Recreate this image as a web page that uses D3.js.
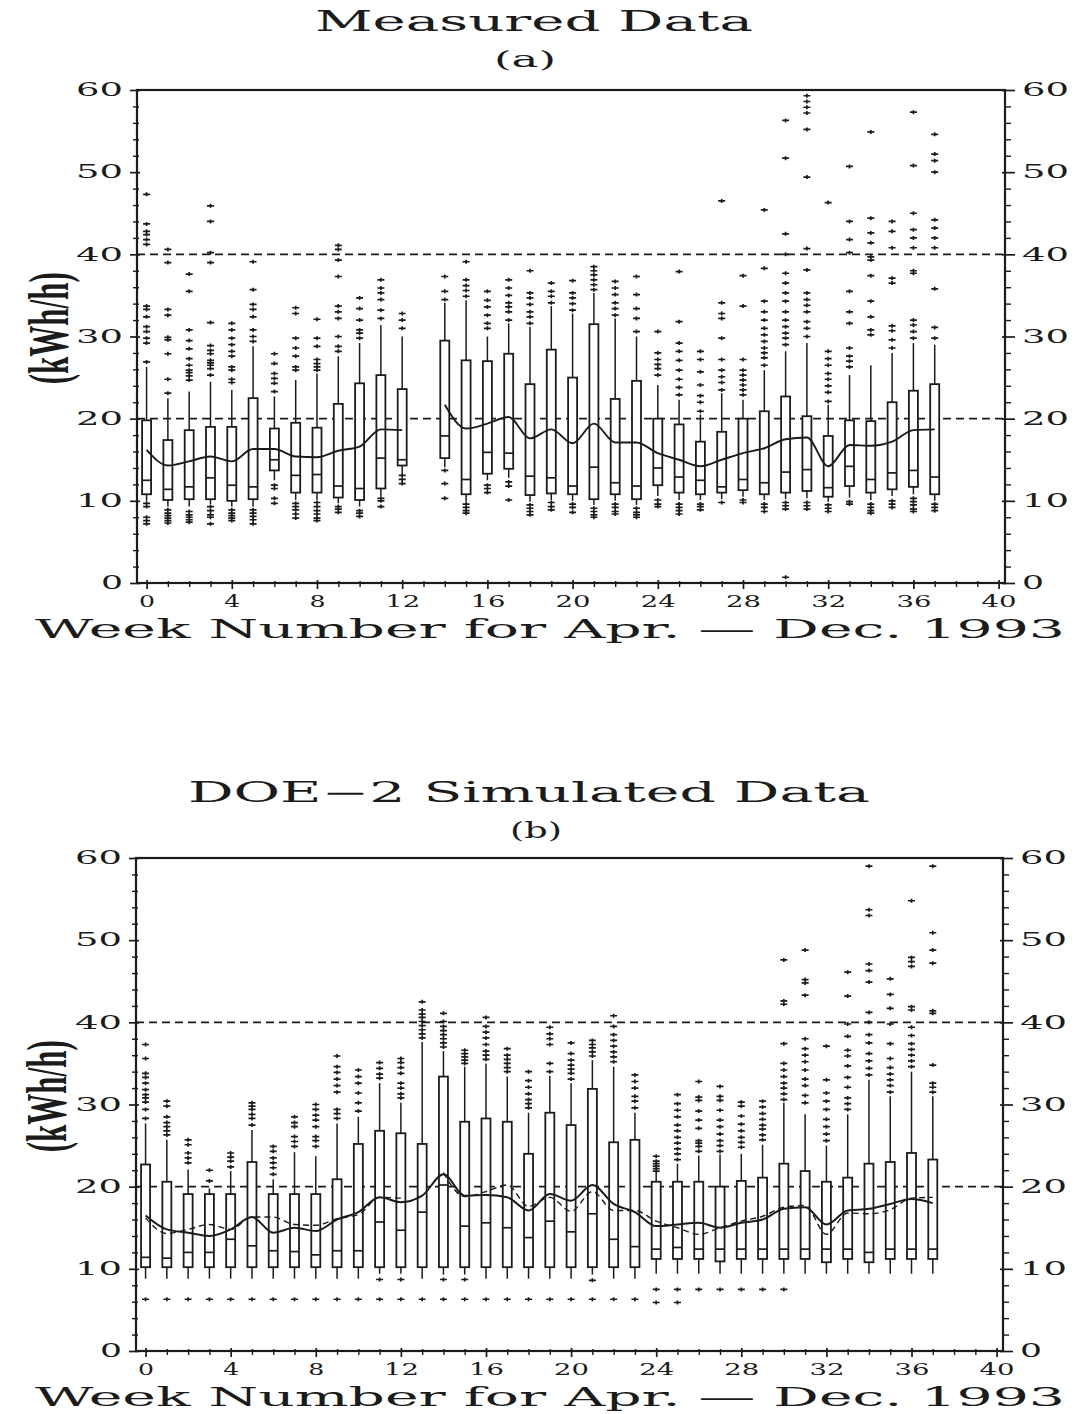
<!DOCTYPE html>
<html>
<head>
<meta charset="utf-8">
<script src="https://cdn.jsdelivr.net/npm/d3@7"></script>
<style>
  body { margin: 0; background: #fff; }
  svg { display: block; }
</style>
</head>
<body>
<svg id="chart" width="1078" height="1414"></svg>
<script>
// ---------- categories and tick labels ----------
const weeks = [0,1,2,3,4,5,6,7,8,9,10,11,12,13,14,15,16,17,18,19,20,21,22,23,24,25,26,27,28,29,30,31,32,33,34,35,36,37];
const xTickWeeks = [0,4,8,12,16,20,24,28,32,36,40];
const yTickValues = [0,10,20,30,40,50,60];
const refLevels = [20,40];
const xTitle = "Week Number for Apr. \u2014 Dec. 1993";
const yTitle = "(kWh/h)";

// ---------- measured hourly energy, weekly box statistics (week 13 has no data) ----------
const measQ1  = [10.8,10.1,10.2,10.2,10.0,10.2,13.7,11.0,11.0,10.4,10.1,11.5,14.3,null,15.2,10.8,13.3,13.9,10.7,10.9,10.8,10.2,10.8,10.2,11.9,11.0,10.8,11.0,11.3,10.8,11.0,11.2,10.5,11.8,11.0,11.4,11.7,10.8];
const measMed = [12.5,11.4,11.7,12.8,11.9,11.7,15.0,13.1,13.2,11.8,11.5,15.2,15.0,null,17.9,12.6,15.9,15.8,13.0,12.8,11.8,14.1,12.2,11.8,14.0,12.9,12.5,11.7,12.6,12.2,13.5,13.8,11.6,14.2,12.6,13.4,13.7,12.9];
const measQ3  = [19.8,17.4,18.6,19.0,19.0,22.5,18.8,19.5,18.9,21.8,24.3,25.3,23.6,null,29.5,27.1,27.0,27.9,24.2,28.4,25.0,31.5,22.4,24.6,20.0,19.3,17.2,18.4,20.0,20.9,22.7,20.3,17.9,19.8,19.7,22.0,23.4,24.2];
const measLo  = [10.0,9.3,9.3,9.6,9.3,9.3,12.5,10.1,10.1,9.7,9.3,10.6,13.3,null,14.1,9.9,12.5,12.8,9.9,10.1,10.0,9.5,10.0,9.5,10.6,10.1,10.1,10.2,10.5,10.1,10.2,10.3,9.9,10.4,10.1,10.6,10.8,10.0];
const measHi  = [26.3,22.5,23.3,24.5,23.5,28.8,22.7,24.7,25.5,27.6,29.2,31.4,30.0,null,34.1,34.4,30.0,31.6,31.2,33.7,32.8,35.3,32.2,30.0,24.1,22.3,20.5,23.1,22.3,25.9,28.2,29.2,21.7,25.3,26.5,28.0,29.2,29.0];
const measMean = [16.2,14.3,14.8,15.4,14.8,16.3,16.3,15.4,15.3,16.1,16.6,18.7,18.6,null,21.7,18.8,19.4,20.2,17.6,18.7,17.0,19.4,17.1,17.1,15.8,15.0,14.2,15.0,15.8,16.4,17.5,17.7,14.2,16.8,16.7,17.2,18.6,18.7];
const measOutHi = [
  [26.9,29.2,29.8,30.6,31.2,32.4,33.3,33.7,41.2,41.8,42.4,42.8,43.7,47.3],
  [23.1,24.8,27.9,29.6,29.9,32.6,33.3,39.0,40.6],
  [24.7,25.2,25.6,25.9,26.5,27.3,28.5,29.5,30.8,35.5,37.6],
  [25.3,26.1,26.5,26.8,27.1,27.9,28.3,28.9,31.7,39.0,40.2,44.0,45.9],
  [24.4,24.8,25.9,26.3,27.6,28.2,29.0,29.8,30.8,31.6],
  [29.4,30.0,30.8,32.4,33.3,33.9,35.7,39.1],
  [23.3,24.3,24.9,25.5,26.7,27.9],
  [25.9,26.3,27.6,28.6,29.8,32.8,33.5],
  [25.9,26.3,26.7,27.2,28.8,29.8,32.1],
  [28.2,28.8,30.0,32.2,33.0,33.7,37.3,39.3,40.6,41.1],
  [29.8,30.4,30.8,32.0,33.4,34.7],
  [32.2,33.2,34.5,35.3,35.9,36.9],
  [31.0,32.0,32.8],
  [],
  [34.5,35.5,37.3],
  [34.9,35.6,36.2,36.9,39.1],
  [31.0,31.6,32.6,33.6,34.4,35.5],
  [32.0,33.0,33.6,34.1,35.0,35.9,36.9],
  [31.6,32.4,33.0,33.9,34.7,35.3,38.0],
  [34.1,34.9,35.5,36.5],
  [33.2,34.0,34.7,35.3,36.8],
  [35.7,36.3,36.9,37.5,38.0,38.5],
  [32.6,33.4,34.1,35.1,35.9,36.7],
  [30.6,32.2,33.4,35.1,37.3],
  [25.3,26.1,26.6,27.2,28.0,30.6],
  [22.9,23.8,24.8,25.9,27.1,28.2,29.2,31.8,37.9],
  [20.9,22.0,22.8,24.1,25.7,27.2,28.2],
  [23.5,24.4,25.1,25.9,27.2,29.8,32.2,32.8,34.1,46.5],
  [22.9,23.5,24.1,24.7,25.3,25.9,27.2,33.7,37.4],
  [26.5,27.4,28.0,28.6,29.4,30.2,31.0,32.0,33.0,34.3,38.3,45.4],
  [29.0,29.8,30.4,31.2,32.0,33.0,34.3,35.3,36.5,37.7,40.0,42.5,51.7,56.3],
  [30.0,31.0,31.8,33.0,33.8,34.5,35.3,38.1,40.7,49.4,55.2,57.2,57.9,58.6,59.3],
  [22.1,23.2,24.0,24.8,25.5,26.5,27.3,28.2,46.3],
  [26.3,27.0,27.6,28.6,31.6,33.0,35.5,40.2,41.8,44.0,50.7],
  [30.2,30.8,32.4,34.3,37.4,39.3,39.7,41.4,42.6,44.4,54.9],
  [28.6,29.6,30.7,31.3,36.5,37.1,40.8,42.8,44.0],
  [29.8,30.6,31.4,32.0,37.7,38.0,40.8,42.0,43.0,45.0,50.8,57.3],
  [29.8,31.1,35.8,40.8,42.0,43.2,44.2,50.0,51.4,52.2,54.6]
];
const measOutLo = [
  [9.7,9.3,8.0,7.6,7.2],[8.9,8.5,8.2,7.9,7.6,7.3],[8.7,8.3,8.0,7.7,7.4],[9.3,8.8,8.3,8.0,7.2],
  [8.9,8.5,8.2,7.9,7.6],[8.9,8.5,8.1,7.7,7.2],[11.9,11.5,10.3,9.7],[9.7,9.3,8.9,8.4,7.9],
  [9.8,9.3,8.8,8.4,7.9,7.6],[9.3,9.0,8.6],[8.8,8.5,8.1],[10.3,10.0,9.3],[13.1,12.6,12.1],
  [],
  [13.7,12.1,10.3],[9.6,9.2,8.8,8.5],[11.9,11.5,11.0],[12.3,11.8,10.1],[9.5,9.1,8.7,8.3],
  [9.8,9.3,8.9],[9.6,9.2,8.6],[9.1,8.7,8.3,8.0],[9.6,9.2,8.7,8.4],[9.1,8.6,8.3,8.0],
  [10.1,9.6,9.3],[9.6,9.2,8.8,8.4],[9.6,9.3,8.9],[9.8],[10.1,9.8],[9.6,9.2,8.7],
  [9.8,9.4,9.0,0.7],[9.8,9.4,9.0],[9.5,9.1,8.7],[9.9,9.6],[9.6,9.2,8.8,8.5],
  [10.0,9.6,9.2],[10.3,9.9,9.5,9.0,8.7],[9.6,9.2,8.8]
];

// ---------- DOE-2 simulated hourly energy, weekly box statistics ----------
const simQ1  = [10.2,10.2,10.2,10.2,10.2,10.2,10.2,10.2,10.2,10.2,10.2,10.2,10.2,10.2,10.2,10.2,10.2,10.2,10.2,10.2,10.2,10.2,10.2,10.2,11.2,11.2,11.2,10.9,11.2,11.2,11.2,11.2,10.8,11.2,10.8,11.2,11.2,11.2];
const simMed = [11.4,11.3,12.0,12.0,13.6,12.8,12.2,12.1,11.7,12.2,12.2,15.7,14.7,16.9,20.2,15.2,15.6,15.0,13.8,15.8,14.5,16.7,13.6,12.7,12.4,12.6,12.4,12.4,12.4,12.4,12.4,12.4,12.4,12.4,12.0,12.4,12.4,12.4];
const simQ3  = [22.7,20.6,19.1,19.1,19.1,23.0,19.1,19.1,19.1,20.9,25.2,26.8,26.5,25.2,33.4,27.9,28.3,27.9,24.0,29.0,27.5,31.9,25.4,25.7,20.6,20.6,20.6,20.0,20.7,21.1,22.8,21.9,20.6,21.1,22.8,23.0,24.1,23.3];
const simLo  = [8.8,8.8,8.8,8.8,8.8,8.8,8.8,8.8,8.8,8.8,8.8,9.4,9.4,8.8,9.3,9.3,8.8,8.8,8.8,8.8,8.8,9.3,8.8,8.8,9.4,9.4,9.4,9.4,9.4,9.4,9.4,9.4,9.4,9.4,9.4,9.4,9.4,9.4];
const simHi  = [27.7,25.7,22.1,19.8,21.9,26.9,20.9,24.2,23.7,27.7,28.5,32.6,30.2,37.6,36.5,34.6,35.0,33.4,29.0,33.5,32.6,35.4,34.6,29.0,21.7,22.8,23.8,23.9,24.0,25.1,30.2,28.8,25.0,28.8,33.0,31.0,34.0,31.0];
const simMean = [16.5,14.8,14.4,14.0,14.8,16.3,14.4,15.0,14.6,16.0,16.9,18.7,18.1,18.9,21.5,18.9,19.0,18.7,17.1,19.1,18.3,20.2,17.9,16.9,15.2,15.4,15.6,15.0,15.6,16.0,17.3,17.5,15.4,17.1,17.3,17.9,18.5,18.0];
const simOutHi = [
  [28.3,29.4,30.3,30.8,31.2,31.8,32.6,33.3,33.8,35.6,37.3],
  [26.3,26.8,27.3,27.8,28.5,29.8,30.4],
  [22.9,23.5,24.1,25.1,25.7],
  [20.7,22.0],
  [22.4,23.1,23.6,24.1],
  [27.5,28.3,28.8,29.4,29.8,30.2],
  [21.5,22.3,22.9,23.5,24.3,24.9],
  [24.9,25.5,26.1,27.3,27.8,28.5],
  [24.9,25.6,26.1,27.3,28.1,28.7,29.4,30.0],
  [28.3,28.9,29.4,31.5,32.3,33.1,33.9,34.6,35.9],
  [29.2,30.2,31.4,32.6,33.4,34.2],
  [33.2,33.7,34.4,35.1],
  [30.8,31.3,32.0,32.6,33.8,34.5,35.1,35.6],
  [38.1,38.6,39.1,39.6,40.1,40.6,41.0,41.5,42.5],
  [37.0,37.5,38.0,38.5,39.0,39.5,40.1,41.1],
  [35.0,35.4,35.8,36.2,36.6],
  [35.5,36.0,36.5,37.3,38.1,38.8,39.5,40.6],
  [34.0,34.5,35.0,35.5,36.0,36.8],
  [29.6,30.1,30.6,31.3,32.1,32.9,34.0],
  [34.0,35.0,37.3,38.0,38.6,39.4],
  [33.1,33.8,34.3,34.8,35.4,36.2,37.5],
  [35.9,36.4,36.9,37.3,37.8],
  [35.2,35.8,36.4,37.1,37.8,38.5,39.5,40.8],
  [29.6,30.4,31.0,32.0,32.8,33.6],
  [21.9,22.2,22.5,22.8,23.1,23.7],
  [23.3,24.0,24.6,25.3,26.0,26.8,27.5,28.5,29.3,30.1,31.2],
  [24.3,24.9,25.3,25.6,27.1,28.1,29.2,30.5,30.9,32.8],
  [24.3,25.0,25.6,26.4,27.3,28.1,29.3,30.5,31.0,32.2],
  [24.8,25.4,26.0,26.8,27.6,28.6,29.8,30.3],
  [25.7,26.3,27.0,27.5,28.2,28.9,29.7,30.4],
  [30.6,31.3,32.0,32.6,33.4,34.2,35.0,37.4,42.2,42.6,47.6],
  [30.2,31.1,32.3,33.1,34.2,35.2,36.0,36.8,38.0,43.3,44.8,45.2,48.8],
  [25.6,26.4,27.3,28.2,29.4,30.4,31.4,33.0,37.1],
  [29.4,30.1,30.8,32.1,33.3,34.7,35.9,36.6,38.3,39.8,43.2,46.1],
  [33.6,34.4,35.3,36.2,37.5,38.5,40.0,41.2,44.9,46.3,47.1,53.0,53.7,59.0],
  [31.5,32.3,33.0,33.7,34.5,35.6,37.4,39.8,41.7,43.4,45.3],
  [34.6,35.3,36.0,36.7,37.4,38.4,39.4,41.5,41.9,46.8,47.4,47.9,54.8],
  [31.5,32.1,32.6,34.8,41.1,41.4,47.2,48.8,50.9,59.0]
];
const simOutLo = [
  [6.3],[6.3],[6.3],[6.3],[6.3],[6.3],[6.3],[6.3],[6.3],[6.3],[6.3],
  [8.7,6.3],[8.7,6.3],[6.3],[8.7,6.3],[8.7,6.3],[6.3],[6.3],[6.3],[6.3],[6.3],
  [8.6,6.3],[6.3],[6.3],
  [7.5,5.9],[7.5,5.9],[7.5],[7.5],[7.5],[7.5],[7.5],
  [],[],[],[],[],[],[]
];

// ---------- drawing ----------
const svg = d3.select("#chart");
const INK = "#1b1b1b";
const SERIF = "'DejaVu Serif', 'Liberation Serif', serif";

svg.append("rect").attr("width", 1078).attr("height", 1414).attr("fill", "#fff");

function styleTickText(sel, size, w1, w2) {
  sel.selectAll("text")
    .attr("font-family", SERIF)
    .attr("font-size", size)
    .attr("fill", INK)
    .attr("lengthAdjust", "spacingAndGlyphs")
    .attr("textLength", function () { return this.textContent.length > 1 ? w2 : w1; });
}

function drawPanel(p) {
  const g = svg.append("g");
  const x = d3.scaleLinear().domain([-0.45, 40.3]).range([p.left, p.right]);
  const y = d3.scaleLinear().domain([0, 60]).range([p.bottom, p.top]);

  // titles
  g.append("text").attr("x", p.titleX).attr("y", p.titleY)
    .attr("text-anchor", "middle").attr("font-family", SERIF).attr("font-size", 27)
    .attr("fill", INK).attr("textLength", p.titleW).attr("lengthAdjust", "spacingAndGlyphs")
    .text(p.title);
  g.append("text").attr("x", p.subX).attr("y", p.titleY + 36)
    .attr("text-anchor", "middle").attr("font-family", SERIF).attr("font-size", 22)
    .attr("fill", INK).attr("textLength", p.subW).attr("lengthAdjust", "spacingAndGlyphs")
    .text(p.sub);

  // reference levels
  g.selectAll("line.ref").data(refLevels).join("line")
    .attr("x1", p.left).attr("x2", p.right)
    .attr("y1", d => y(d)).attr("y2", d => y(d))
    .attr("stroke", INK).attr("stroke-width", 1.6).attr("stroke-dasharray", "8,5");

  // y axes (major + minor ticks), left and right
  const minorY = d3.range(0, 61, 2).filter(v => v % 10 !== 0);
  const left = g.append("g").attr("transform", `translate(${p.left},0)`)
    .call(d3.axisLeft(y).tickValues(yTickValues).tickSize(7).tickPadding(7).tickFormat(d3.format("d")));
  left.select(".domain").remove();
  left.selectAll("line").attr("x1", 3).attr("stroke", INK).attr("stroke-width", 1.7);
  styleTickText(left, 18, 22, 47);
  const leftMinor = g.append("g").attr("transform", `translate(${p.left},0)`)
    .call(d3.axisLeft(y).tickValues(minorY).tickSize(4).tickFormat(""));
  leftMinor.select(".domain").remove();
  leftMinor.selectAll("line").attr("x1", 2).attr("stroke", INK).attr("stroke-width", 1.4);

  const right = g.append("g").attr("transform", `translate(${p.right},0)`)
    .call(d3.axisRight(y).tickValues(yTickValues).tickSize(10).tickPadding(7).tickFormat(d3.format("d")));
  right.select(".domain").remove();
  right.selectAll("line").attr("x1", -3).attr("stroke", INK).attr("stroke-width", 1.7);
  styleTickText(right, 18, 22, 47);
  const rightMinor = g.append("g").attr("transform", `translate(${p.right},0)`)
    .call(d3.axisRight(y).tickValues(minorY).tickSize(6).tickFormat(""));
  rightMinor.select(".domain").remove();
  rightMinor.selectAll("line").attr("stroke", INK).attr("stroke-width", 1.4);

  // x axis: a tick every week, labels every fourth week
  const bottom = g.append("g").attr("transform", `translate(0,${p.bottom})`)
    .call(d3.axisBottom(x).tickValues(xTickWeeks).tickSize(6).tickPadding(6).tickFormat(d3.format("d")));
  bottom.select(".domain").remove();
  bottom.selectAll("line").attr("y1", -3).attr("stroke", INK).attr("stroke-width", 1.7);
  styleTickText(bottom, 17, 16, 35);
  const weekTicks = d3.range(0, 41).filter(v => v % 4 !== 0);
  const bottomMinor = g.append("g").attr("transform", `translate(0,${p.bottom})`)
    .call(d3.axisBottom(x).tickValues(weekTicks).tickSize(4).tickFormat(""));
  bottomMinor.select(".domain").remove();
  bottomMinor.selectAll("line").attr("y1", -2).attr("stroke", INK).attr("stroke-width", 1.4);

  // frame
  g.append("rect").attr("x", p.left).attr("y", p.top)
    .attr("width", p.right - p.left).attr("height", p.bottom - p.top)
    .attr("fill", "none").attr("stroke", INK).attr("stroke-width", 2.2);

  // axis titles
  g.append("text").attr("x", 550).attr("y", p.bottom + 55)
    .attr("text-anchor", "middle").attr("font-family", SERIF).attr("font-size", 26)
    .attr("fill", INK).attr("textLength", 1030).attr("lengthAdjust", "spacingAndGlyphs")
    .text(xTitle);
  g.append("text")
    .attr("transform", `translate(${p.yTitleX},${y(31)}) rotate(-90)`)
    .attr("text-anchor", "middle").attr("font-family", "'Liberation Serif', 'Times New Roman', serif")
    .attr("font-size", 56).attr("font-weight", "bold").attr("fill", INK)
    .attr("textLength", 112).attr("lengthAdjust", "spacingAndGlyphs")
    .text(yTitle);

  // box plots
  const rows = weeks.map((w, i) => ({
    w, q1: p.q1[i], med: p.med[i], q3: p.q3[i], lo: p.lo[i], hi: p.hi[i],
    outHi: p.outHi[i], outLo: p.outLo[i]
  })).filter(d => d.q1 != null);
  const half = 4.5;
  const box = g.append("g").attr("stroke", INK).attr("fill", "none");
  const bx = box.selectAll("g").data(rows).join("g");
  bx.append("line").attr("x1", d => x(d.w)).attr("x2", d => x(d.w))
    .attr("y1", d => y(d.q3)).attr("y2", d => y(d.hi)).attr("stroke-width", 1.5);
  bx.append("line").attr("x1", d => x(d.w)).attr("x2", d => x(d.w))
    .attr("y1", d => y(d.q1)).attr("y2", d => y(d.lo)).attr("stroke-width", 1.5);
  bx.append("rect").attr("x", d => x(d.w) - half).attr("width", half * 2)
    .attr("y", d => y(d.q3)).attr("height", d => y(d.q1) - y(d.q3))
    .attr("fill", "#fff").attr("stroke-width", 1.8);
  bx.append("line").attr("x1", d => x(d.w) - half).attr("x2", d => x(d.w) + half)
    .attr("y1", d => y(d.med)).attr("y2", d => y(d.med)).attr("stroke-width", 1.7);

  // outliers drawn as '+'
  const pts = rows.flatMap(d => d.outHi.concat(d.outLo).map(v => ({ w: d.w, v })));
  g.append("path")
    .attr("d", pts.map(d => {
      const cx = x(d.w), cy = y(d.v);
      return `M${cx - 3.5},${cy}H${cx + 3.5}M${cx},${cy - 2}V${cy + 2}`;
    }).join(""))
    .attr("stroke", INK).attr("stroke-width", 1.7).attr("fill", "none");

  // weekly mean lines
  p.lines.forEach(L => {
    const line = d3.line().defined(v => v != null)
      .x((v, i) => x(weeks[i])).y(v => y(v)).curve(d3.curveMonotoneX);
    g.append("path").attr("d", line(L.values))
      .attr("fill", "none").attr("stroke", INK).attr("stroke-width", L.width)
      .attr("stroke-dasharray", L.dash || null);
  });
}

drawPanel({
  left: 137, right: 1005, top: 90, bottom: 583,
  title: "Measured Data", titleX: 534, titleY: 31, titleW: 438,
  sub: "(a)", subX: 525, subW: 62, yTitleX: 68,
  q1: measQ1, med: measMed, q3: measQ3, lo: measLo, hi: measHi,
  outHi: measOutHi, outLo: measOutLo,
  lines: [{ values: measMean, width: 1.9 }]
});

drawPanel({
  left: 136, right: 1003, top: 858, bottom: 1351,
  title: "DOE\u22122 Simulated Data", titleX: 529, titleY: 802, titleW: 682,
  sub: "(b)", subX: 536, subW: 52, yTitleX: 66,
  q1: simQ1, med: simMed, q3: simQ3, lo: simLo, hi: simHi,
  outHi: simOutHi, outLo: simOutLo,
  lines: [
    { values: measMean, width: 1.4, dash: "6,4" },
    { values: simMean, width: 2 }
  ]
});
</script>
</body>
</html>
